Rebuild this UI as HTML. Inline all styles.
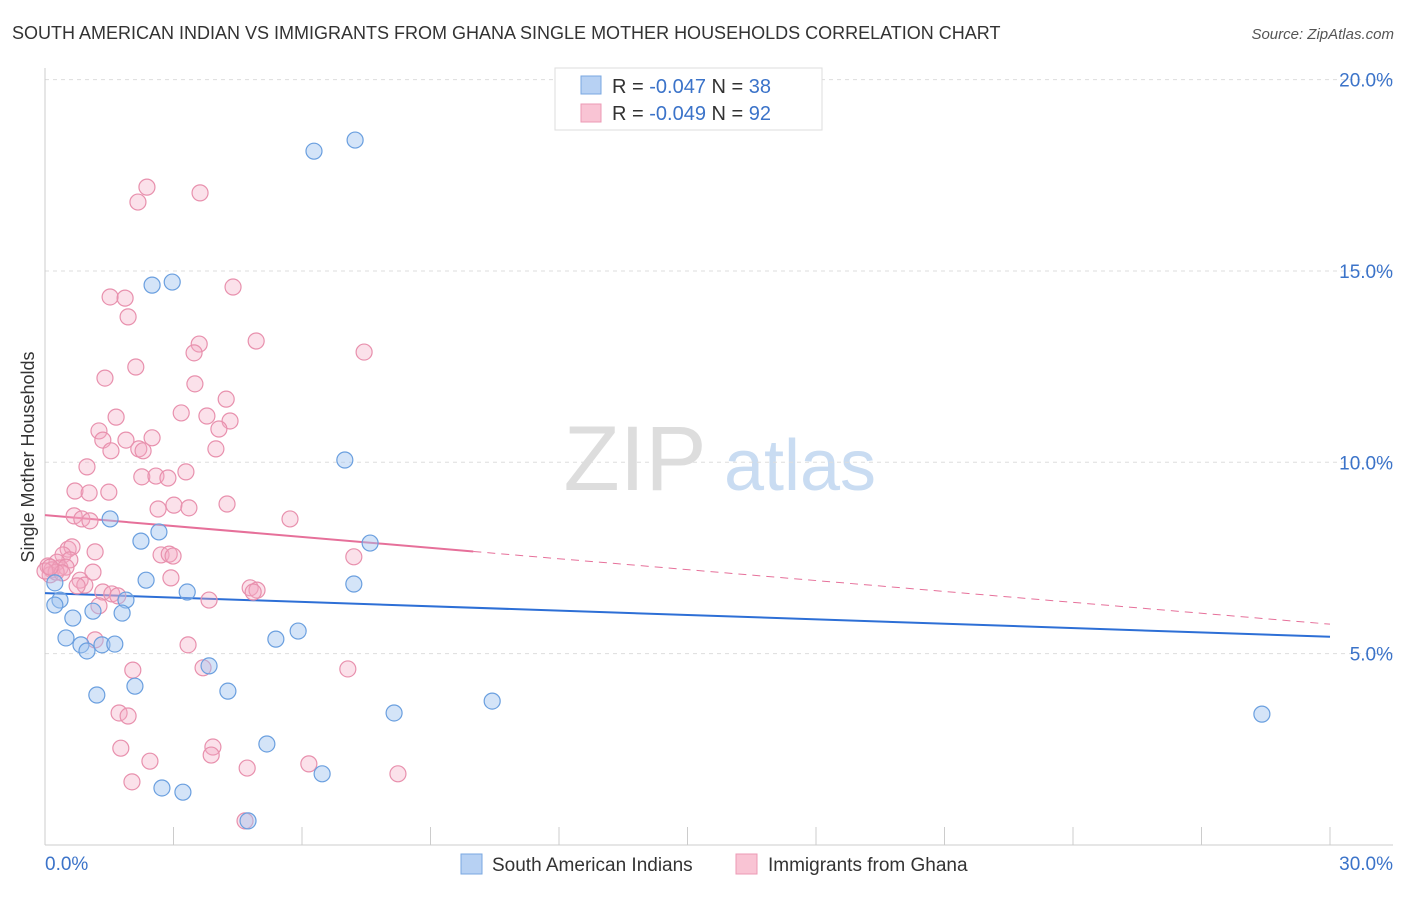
<!DOCTYPE html>
<html><head><meta charset="utf-8"><style>
body{margin:0;background:#fff;font-family:"Liberation Sans",sans-serif;}
svg text{font-family:"Liberation Sans",sans-serif;}
</style></head><body>
<svg id="chart" width="1406" height="892" xmlns="http://www.w3.org/2000/svg">
<text x="12" y="39" font-size="18" fill="#333">SOUTH AMERICAN INDIAN VS IMMIGRANTS FROM GHANA SINGLE MOTHER HOUSEHOLDS CORRELATION CHART</text>
<text x="1394" y="39" font-size="15" fill="#555" text-anchor="end" font-style="italic">Source: ZipAtlas.com</text>
<g>
<text x="635" y="490" font-size="92" fill="#ddd" font-family="Liberation Serif" text-anchor="middle">ZIP</text>
<text x="800" y="490" font-size="72" fill="#c9dcf2" text-anchor="middle">atlas</text>
</g>
<text transform="translate(34,457) rotate(-90)" font-size="18" fill="#333" text-anchor="middle">Single Mother Households</text>
<g id="grid"></g><g id="axes"></g><g id="trends"></g><g id="points"></g>
<g>
<rect x="555" y="68" width="267" height="62" fill="#fff" stroke="#ddd"/>
<rect x="581" y="76" width="20" height="18" fill="#b7d1f3" stroke="#7aa7e0"/>
<rect x="581" y="104" width="20" height="18" fill="#f9c4d4" stroke="#ec9ab5"/>
<text x="612" y="93" font-size="20" fill="#333">R = <tspan fill="#3b73c9">-0.047</tspan>   N = <tspan fill="#3b73c9">38</tspan></text>
<text x="612" y="120" font-size="20" fill="#333">R = <tspan fill="#3b73c9">-0.049</tspan>   N = <tspan fill="#3b73c9">92</tspan></text>
</g>
<g>
<rect x="461" y="854" width="21" height="20" fill="#b7d1f3" stroke="#7aa7e0"/>
<text x="492" y="871" font-size="19" fill="#333">South American Indians</text>
<rect x="736" y="854" width="21" height="20" fill="#f9c4d4" stroke="#ec9ab5"/>
<text x="768" y="871" font-size="19" fill="#333">Immigrants from Ghana</text>
</g>
</svg>
<script>
const yTicks=[5,10,15,20];
const yTickLabels=["5.0%","10.0%","15.0%","20.0%"];
const xTickLabels=["0.0%","30.0%"];
const blueX=[6.28,7.24,2.50,2.97,7.00,1.52,2.66,2.24,7.59,2.36,7.21,3.32,0.35,0.23,1.89,1.12,1.80,0.65,0.49,0.84,0.98,1.33,1.63,5.39,5.91,3.83,2.10,1.21,4.27,8.15,10.44,28.41,5.18,6.47,2.73,3.22,4.74,0.23];
const blueY=[18.13,18.42,14.63,14.71,10.06,8.52,8.18,7.94,7.89,6.92,6.82,6.61,6.40,6.27,6.40,6.11,6.06,5.93,5.41,5.23,5.07,5.23,5.25,5.38,5.59,4.68,4.15,3.92,4.02,3.45,3.76,3.42,2.64,1.86,1.49,1.38,0.63,6.85];
const pinkX=[2.38,3.62,2.17,1.52,1.87,4.39,1.94,4.93,3.60,3.48,7.45,2.12,1.40,3.50,4.23,1.66,3.18,3.78,4.32,1.26,2.50,1.35,1.89,4.06,1.54,2.19,2.29,3.99,0.98,2.26,2.59,2.87,3.29,0.70,1.03,1.49,3.01,2.64,3.36,4.25,0.68,0.86,1.05,5.72,0.54,0.63,1.17,2.71,2.90,2.99,7.21,0.42,0.58,0.28,0.07,0.16,0.35,0.49,0.12,0.26,0.40,1.12,0.82,0.93,2.94,1.35,1.56,1.70,4.79,4.95,4.86,1.26,3.83,1.17,3.34,2.05,3.69,7.07,1.73,1.94,1.77,2.45,3.92,3.88,4.72,6.16,8.24,2.03,4.67,0.00,0.12,0.75];
const pinkY=[17.19,17.04,16.80,14.32,14.29,14.58,13.80,13.17,13.09,12.86,12.88,12.49,12.20,12.05,11.65,11.18,11.29,11.21,11.08,10.82,10.64,10.58,10.58,10.87,10.30,10.35,10.30,10.35,9.88,9.62,9.64,9.59,9.75,9.25,9.20,9.22,8.88,8.78,8.81,8.91,8.60,8.52,8.47,8.52,7.73,7.79,7.66,7.58,7.60,7.55,7.53,7.58,7.45,7.39,7.29,7.19,7.24,7.26,7.06,7.13,7.11,7.13,6.92,6.79,6.98,6.61,6.56,6.51,6.72,6.66,6.61,6.25,6.40,5.36,5.23,4.57,4.63,4.60,3.45,3.37,2.53,2.19,2.56,2.35,2.01,2.12,1.86,1.65,0.63,7.16,7.26,6.77];
const blueTrend=[6.58,5.44];
const pinkTrend=[8.62,5.77];
const pinkSolidEnd=10;
const NS="http://www.w3.org/2000/svg";
const X0=45,X1=1330,Y0=845,PXY=38.27;
function sx(v){return X0+(X1-X0)*v/30;}
function sy(v){return Y0-v*PXY;}
function mk(t,a,p){const e=document.createElementNS(NS,t);for(const k in a)e.setAttribute(k,a[k]);p.appendChild(e);return e;}
const grid=document.getElementById('grid'),axes=document.getElementById('axes'),tr=document.getElementById('trends'),pts=document.getElementById('points');
yTicks.forEach((t,i)=>{
 const l=mk('line',{x1:X0,x2:1393,y1:sy(t),y2:sy(t),stroke:'#ddd','stroke-dasharray':'4,4'},grid);
 
 
 const tx=mk('text',{x:1393,y:sy(t)+7,'font-size':19,fill:'#3b73c9','text-anchor':'end'},grid);
 tx.textContent=yTickLabels[i];
 
 
});
const ax=mk('line',{x1:X0,x2:X0,y1:68,y2:Y0,stroke:'#ccc'},axes);


const bx=mk('line',{x1:X0,x2:1393,y1:Y0,y2:Y0,stroke:'#ccc'},axes);


for(let i=0;i<=10;i++){
 const t=mk('line',{x1:sx(i*3),x2:sx(i*3),y1:Y0,y2:Y0-18,stroke:'#ccc'},axes);
 
 
}
[[0,'start',45],[30,'end',1393]].forEach((d,i)=>{
 const t=mk('text',{x:d[2],y:870,'font-size':19,fill:'#3b73c9','text-anchor':d[1]},axes);
 t.textContent=xTickLabels[i];
 
 
});
function addPts(xs,ys,fill,stroke,name){
 xs.forEach((x,i)=>{
  const c=mk('circle',{cx:sx(x),cy:sy(ys[i]),r:8,fill:fill,stroke:stroke,'stroke-width':1.2},pts);
  
  
 });
}
addPts(pinkX,pinkY,'rgba(244,170,195,0.35)','#e890ad','ghana-point');
addPts(blueX,blueY,'rgba(160,196,240,0.45)','#6a9fdf','south-american-indian-point');
const pAt=v=>pinkTrend[0]+(pinkTrend[1]-pinkTrend[0])*v/30;
const l1=mk('line',{x1:sx(0),y1:sy(blueTrend[0]),x2:sx(30),y2:sy(blueTrend[1]),stroke:'#2d6fd6','stroke-width':2},tr);


const l2=mk('line',{x1:sx(0),y1:sy(pinkTrend[0]),x2:sx(pinkSolidEnd),y2:sy(pAt(pinkSolidEnd)),stroke:'#e6709a','stroke-width':2},tr);


const l3=mk('line',{x1:sx(pinkSolidEnd),y1:sy(pAt(pinkSolidEnd)),x2:sx(30),y2:sy(pinkTrend[1]),stroke:'#e6709a','stroke-width':1,'stroke-dasharray':'8,6'},tr);


</script>
</body></html>
